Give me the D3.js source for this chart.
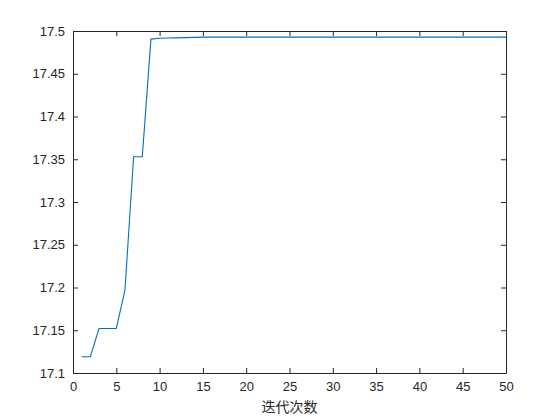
<!DOCTYPE html>
<html><head><meta charset="utf-8">
<script src="https://cdn.jsdelivr.net/npm/d3@7"></script>
<style>body{margin:0;background:#fff}svg{display:block}</style>
</head><body>
<svg id="c" width="560" height="420"></svg>
<script>
const iterations = d3.range(1, 51);
const fitness = [17.119,17.119,17.152,17.152,17.152,17.197,17.353,17.353,17.4905,17.4915,
  17.4918,17.492,17.4922,17.4925,17.4928,17.4928,17.4928,17.4928,17.4928,17.4928,
  17.4928,17.4928,17.4928,17.4928,17.4928,17.4928,17.4928,17.4928,17.4928,17.4928,
  17.4928,17.4928,17.4928,17.4928,17.4928,17.4928,17.4928,17.4928,17.4928,17.4928,
  17.4928,17.4928,17.4928,17.4928,17.4928,17.4928,17.4928,17.4928,17.4928,17.4928];
const xTicks = [0,5,10,15,20,25,30,35,40,45,50];
const yTicks = [17.1,17.15,17.2,17.25,17.3,17.35,17.4,17.45,17.5];
const xLabel = "迭代次数";

const L=73, R=506, T=31, B=373;
const svg = d3.select("#c");
const x = d3.scaleLinear().domain([0,50]).range([L,R]);
const y = d3.scaleLinear().domain([17.1,17.5]).range([B,T]);
const col = "#262626";
const font = "Liberation Sans, Arial, sans-serif";

svg.append("rect").attr("x",L).attr("y",T).attr("width",R-L).attr("height",B-T).attr("fill","#fff");

const fmtY = d => d3.format("")(+d.toFixed(2));
const gx = svg.append("g").attr("transform",`translate(0,${B})`)
  .call(d3.axisBottom(x).tickValues(xTicks).tickSizeInner(-5).tickSizeOuter(0).tickPadding(9));
const gy = svg.append("g").attr("transform",`translate(${L},0)`)
  .call(d3.axisLeft(y).tickValues(yTicks).tickFormat(fmtY).tickSizeInner(-5).tickSizeOuter(0).tickPadding(8));
const gxt = svg.append("g").attr("transform",`translate(0,${T})`)
  .call(d3.axisTop(x).tickValues(xTicks).tickSizeInner(-5).tickSizeOuter(0).tickFormat(""));
const gyr = svg.append("g").attr("transform",`translate(${R},0)`)
  .call(d3.axisRight(y).tickValues(yTicks).tickSizeInner(-5).tickSizeOuter(0).tickFormat(""));
[gx,gy,gxt,gyr].forEach(g=>{
  g.selectAll("path").attr("stroke",col).attr("stroke-width",1);
  g.selectAll("line").attr("stroke",col).attr("stroke-width",1);
  g.selectAll("text").attr("fill",col).attr("font-family",font).attr("font-size",13);
});

svg.append("path").datum(iterations.map((d,i)=>[d,fitness[i]]))
  .attr("fill","none").attr("stroke","#0072BD").attr("stroke-width",1.1)
  .attr("d", d3.line().x(d=>x(d[0])).y(d=>y(d[1])));

svg.append("text").attr("x",(L+R)/2).attr("y",412).attr("text-anchor","middle")
  .attr("font-family","Noto Sans CJK SC, sans-serif").attr("font-size",14).attr("fill",col)
  .text(xLabel);
</script>
</body></html>
